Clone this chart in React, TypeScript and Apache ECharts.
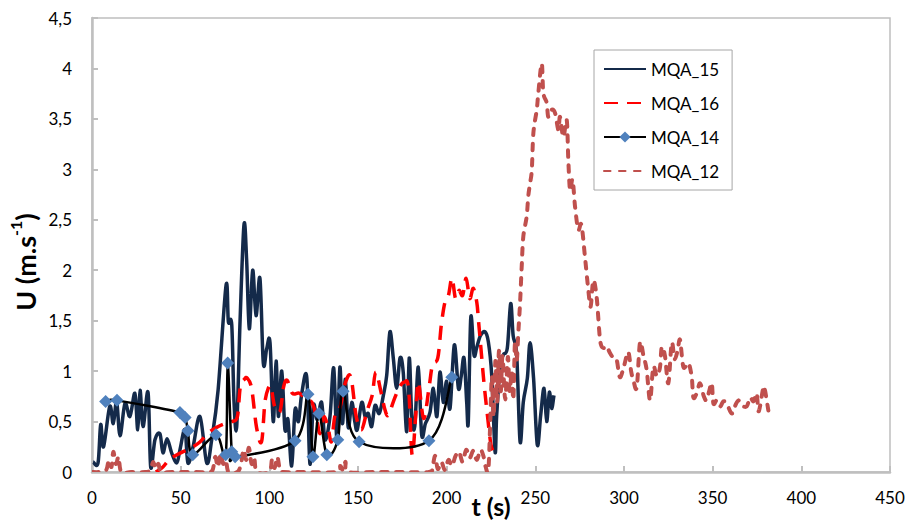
import React, { useEffect, useRef } from "react";
import * as echarts from "echarts";

// Axis ranges (time in s, velocity in m/s)
const xMin = 0;
const xMax = 450;
const xStep = 50;
const yMin = 0;
const yMax = 4.5;
const yStep = 0.5;

const seriesNames = ["MQA_15", "MQA_16", "MQA_14", "MQA_12"];

// MQA_15: [t (s), U (m/s)]
const mqa15: [number, number][] = [
  [0.6, 0.1], [3.4, 0.09], [4.9, 0.47], [6.5, 0.25], [10.0, 0.65], [12.0, 0.48], [13.9, 0.7],
  [15.8, 0.36], [18.6, 0.68], [21.4, 0.55], [24.2, 0.78], [25.8, 0.42], [27.1, 0.81], [28.8, 0.45],
  [31.6, 0.79], [33.1, 0.05], [35.5, 0.32], [38.3, 0.38], [40.0, 0.19], [42.3, 0.33], [44.9, 0.19],
  [47.8, 0.09], [49.6, 0.22], [52.4, 0.42], [54.1, 0.09], [57.0, 0.25], [60.9, 0.55], [64.7, 0.09],
  [67.5, 0.32], [71.1, 0.81], [75.6, 1.85], [76.9, 1.49], [78.8, 1.46], [80.1, 0.69], [81.6, 0.45],
  [83.5, 1.5], [85.7, 2.45], [87.2, 2.1], [88.7, 1.42], [90.6, 2.0], [92.5, 1.55], [94.7, 1.92],
  [96.6, 1.08], [98.5, 1.22], [100.4, 1.28], [102.2, 0.5], [103.8, 1.1], [105.1, 0.55], [107.0, 1.0],
  [108.8, 0.42], [110.5, 0.52], [112.6, 0.06], [114.5, 0.62], [116.4, 0.5], [118.3, 0.78], [121.1, 0.94],
  [122.9, 0.08], [124.8, 0.66], [127.0, 0.52], [129.5, 0.69], [131.4, 0.32], [134.2, 0.55], [136.3, 1.03],
  [138.2, 0.3], [139.8, 1.04], [141.2, 0.48], [142.9, 0.92], [144.5, 0.44], [146.5, 0.69], [148.2, 0.5],
  [149.6, 0.42], [152.1, 0.69], [154.0, 0.55], [155.8, 0.58], [157.7, 0.45], [159.6, 0.66], [162.0, 0.58],
  [164.3, 0.76], [166.2, 0.96], [168.0, 1.39], [169.9, 1.13], [171.8, 0.83], [173.7, 1.13], [175.5, 0.99],
  [177.5, 0.4], [178.9, 1.13], [180.3, 0.56], [182.0, 0.45], [184.0, 1.04], [185.9, 0.37], [188.0, 0.48],
  [190.6, 0.59], [192.5, 0.83], [194.5, 0.55], [196.2, 0.99], [198.1, 0.69], [200.0, 0.9], [201.9, 0.63],
  [204.3, 1.26], [206.6, 0.83], [208.2, 0.95], [209.8, 1.13], [211.3, 0.69], [212.2, 0.5], [213.6, 1.53],
  [215.4, 1.16], [216.9, 1.23], [219.0, 1.35], [221.6, 1.39], [223.5, 1.29], [225.4, 0.96], [227.3, 0.2],
  [228.2, 0.56], [230.1, 1.03], [231.9, 1.16], [234.2, 1.23], [236.1, 1.67], [237.5, 1.35], [239.5, 1.16],
  [241.4, 0.3], [243.2, 0.69], [245.5, 0.93], [247.0, 1.28], [249.0, 0.93], [251.1, 0.27], [253.0, 0.56],
  [254.9, 0.83], [256.4, 0.5], [257.9, 0.79], [259.2, 0.63], [260.5, 0.76],
];

// MQA_16
const mqa16: [number, number][] = [
  [36, 0.0], [40, 0.05], [44, 0.13], [50, 0.19], [56, 0.24], [61, 0.3], [65, 0.38], [70, 0.44],
  [75, 0.48], [79, 0.5], [82, 0.55], [83.6, 0.84], [86, 0.92], [87.5, 0.93], [90, 0.83], [92.8, 0.44],
  [95.6, 0.3], [97.5, 0.69], [99.4, 0.83], [101, 0.84], [103, 0.65], [106, 0.6], [108, 0.84], [110, 0.91],
  [113, 0.78], [117, 0.78], [121, 0.71], [124, 0.69], [126.5, 0.55], [128.5, 0.38], [130.5, 0.55],
  [133, 0.45], [135, 0.3], [137, 0.56], [140, 0.65], [143, 0.89], [146, 0.94], [149, 0.55], [152, 0.42],
  [155, 0.6], [158, 0.76], [160, 0.99], [163, 0.79], [165, 0.63], [167, 0.56], [170, 0.7], [173, 0.83],
  [176, 0.89], [178.5, 0.83], [180.5, 0.17], [182.5, 0.55], [184, 0.89], [187, 0.53], [190, 0.83],
  [192, 1.06], [195, 1.13], [197, 1.46], [199, 1.68], [201, 1.75], [203, 1.92], [205, 1.72], [207, 1.8],
  [209, 1.75], [211, 1.92], [213, 1.72], [215, 1.82], [217, 1.68], [218, 1.49], [219.3, 1.23], [221, 0.89],
  [223, 0.56], [225, 0.27], [227, 0.18],
];

// MQA_14 (measured points, shown with markers)
const mqa14: [number, number][] = [
  [7.7, 0.7], [14.1, 0.71], [49.6, 0.59], [52.5, 0.54], [54.1, 0.41], [56.8, 0.17], [69.9, 0.37],
  [75.4, 0.17], [76.5, 1.08], [78.8, 0.2], [80.7, 0.15], [114.5, 0.31], [121.8, 0.77], [124.6, 0.15],
  [128.0, 0.58], [132.4, 0.17], [138.6, 0.32], [141.6, 0.8], [150.6, 0.3], [190.0, 0.31], [202.9, 0.94],
];

// MQA_12
const mqa12: [number, number][] = [
  [0, 0], [4, 0], [8, 0.02], [9.5, 0.12], [11, 0.05], [12, 0.2], [13.5, 0.08], [15, 0.15], [16.5, 0],
  [22, 0], [30, 0], [33, 0.02], [34.5, 0.1], [36, 0.03], [37.5, 0.08], [39, 0], [45, 0], [55, 0], [65, 0],
  [68, 0.02], [69.5, 0.15], [71, 0.05], [72.5, 0.18], [74, 0.08], [75.5, 0.12], [77, 0], [82, 0],
  [84, 0.08], [85.5, 0.22], [87, 0.12], [88.5, 0.24], [90, 0.08], [91.5, 0.14], [93, 0], [100, 0],
  [101.5, 0.12], [103, 0.04], [104.5, 0.15], [106, 0.02], [108, 0], [120, 0], [138, 0], [140, 0.06],
  [141.5, 0.02], [143, 0.1], [144.5, 0], [160, 0], [175, 0], [190, 0], [192, 0.05], [193.5, 0.16],
  [195, 0.03], [197, 0.1], [199, 0.02], [201, 0.12], [203, 0.06], [205, 0.16], [207, 0.2], [209, 0.1],
  [211, 0.22], [213, 0.14], [215, 0.21], [217, 0.12], [219, 0.22], [220.7, 0.16], [222, 0.05],
  [223.5, 0.02], [224.5, 0.45], [225.5, 0.95], [226.5, 0.55], [227.5, 1.1], [228.5, 0.7], [229.5, 1.2],
  [230.5, 0.8], [231.5, 1.15], [233, 0.72], [234.5, 1.14], [235.5, 0.8], [236.7, 1.0], [237.6, 0.72],
  [238.5, 1.28], [239.5, 1.1], [240.4, 1.38], [241.4, 1.68], [242.3, 2.03], [243.2, 2.33], [245.1, 2.53],
  [246.0, 2.73], [247.0, 2.86], [248.0, 2.99], [248.9, 3.36], [250.8, 3.59], [251.7, 3.76], [253.6, 4.05],
  [254.5, 3.76], [256.4, 3.66], [257.3, 3.52], [259.2, 3.59], [261.1, 3.56], [263.0, 3.39], [263.9, 3.52],
  [265.8, 3.32], [267.7, 3.49], [268.6, 3.09], [269.6, 2.79], [271.0, 2.9], [272.4, 2.63], [274.2, 2.4],
  [276.0, 2.45], [278.0, 2.13], [279.9, 1.8], [281.2, 1.64], [282.7, 1.9], [284.6, 1.73], [286.5, 1.31],
  [288.3, 1.23], [290.0, 1.25], [292.1, 1.18], [294.0, 1.13], [295.9, 1.11], [297.7, 0.94], [300.0, 1.05],
  [302.4, 1.19], [304.0, 1.0], [305.3, 0.91], [307.2, 0.84], [309.0, 1.28], [311.0, 1.15], [312.8, 1.01],
  [314.7, 0.71], [316.5, 1.04], [318.5, 0.95], [320.3, 1.04], [321.3, 1.24], [323.1, 1.15], [325.0, 0.88],
  [326.9, 1.28], [328.5, 1.12], [330.2, 1.2], [331.6, 1.31], [333.5, 1.04], [336.3, 1.08], [338.2, 0.94],
  [339.1, 0.74], [341.0, 0.78], [342.9, 0.88], [345.0, 0.75], [346.6, 0.71], [348.0, 0.8], [349.5, 0.88],
  [350.4, 0.68], [352.3, 0.71], [354.2, 0.65], [356.0, 0.7], [357.9, 0.68], [360.7, 0.58], [362.5, 0.65],
  [364.5, 0.71], [366.5, 0.66], [369.2, 0.65], [371.1, 0.74], [373.0, 0.7], [374.8, 0.78], [375.7, 0.61],
  [376.7, 0.65], [378.6, 0.84], [379.5, 0.81], [381.4, 0.61],
];

const FONT = "Lato, 'Open Sans', sans-serif";
const AXIS_GREY = "#bfbfbf";

const lineStyles: Record<string, { color: string; width: number; dash?: number[]; cap?: string }> = {
  MQA_15: { color: "#142a4a", width: 3.5 },
  MQA_16: { color: "#ff0000", width: 3.5, dash: [14, 9] },
  MQA_14: { color: "#000000", width: 2.5 },
  MQA_12: { color: "#c0504d", width: 4, dash: [6.5, 8.5], cap: "round" },
};

const seriesData: Record<string, [number, number][]> = {
  MQA_15: mqa15,
  MQA_16: mqa16,
  MQA_14: mqa14,
  MQA_12: mqa12,
};

// Cardinal spline through pixel points (control arms = 1/6 of neighbour chord)
function splinePath(pts: number[][]): string {
  if (pts.length < 2) return "";
  let d = `M${pts[0][0]},${pts[0][1]}`;
  for (let i = 0; i < pts.length - 1; i++) {
    const p0 = pts[i - 1] || pts[i];
    const p1 = pts[i];
    const p2 = pts[i + 1];
    const p3 = pts[i + 2] || p2;
    const c1x = p1[0] + (p2[0] - p0[0]) / 6;
    const c1y = p1[1] + (p2[1] - p0[1]) / 6;
    const c2x = p2[0] - (p3[0] - p1[0]) / 6;
    const c2y = p2[1] - (p3[1] - p1[1]) / 6;
    d += ` C${c1x},${c1y} ${c2x},${c2y} ${p2[0]},${p2[1]}`;
  }
  return d;
}

// Smoothed curve series: the whole polyline is emitted once, from the series' own data
function curveSeries(name: string) {
  const data = seriesData[name];
  const st = lineStyles[name];
  return {
    name,
    type: "custom",
    coordinateSystem: "cartesian2d",
    clip: true,
    silent: true,
    encode: { x: 0, y: 1 },
    data,
    renderItem: (params: any, api: any) => {
      if (params.dataIndex !== 0) return null;
      const pts = data.map((p) => api.coord(p));
      return {
        type: "path",
        shape: { pathData: splinePath(pts) },
        style: {
          fill: "none",
          stroke: st.color,
          lineWidth: st.width,
          lineDash: st.dash || null,
          lineCap: st.cap || "butt",
          lineJoin: "round",
        },
      };
    },
  };
}

// Legend-only line series carry the line styles shown in the legend box
function legendSeries(name: string) {
  const st = lineStyles[name];
  return {
    name,
    type: "line",
    data: [],
    symbol: name === "MQA_14" ? "diamond" : "none",
    lineStyle: { color: st.color, width: st.width, type: st.dash || "solid", cap: st.cap || "butt" },
    itemStyle: { color: name === "MQA_14" ? "#4f81bd" : st.color },
  };
}

const legendData = seriesNames.map((name) =>
  name === "MQA_14" ? { name } : { name, itemStyle: { opacity: 0 } }
);

export default function App() {
  const ref = useRef<HTMLDivElement>(null);

  useEffect(() => {
    if (!ref.current) return;
    const chart = echarts.init(ref.current, undefined, { renderer: "svg" });

    const option = {
      animation: false,
      backgroundColor: "#ffffff",
      textStyle: { fontFamily: FONT },
      grid: {
        left: 92,
        right: 21,
        top: 18,
        bottom: 50,
        show: true,
        borderColor: AXIS_GREY,
        borderWidth: 1.5,
        containLabel: false,
        outerBoundsMode: "none",
      },
      legend: {
        data: legendData,
        orient: "vertical",
        left: 594,
        top: 50,
        padding: [9, 13, 9, 9],
        itemGap: 14,
        itemWidth: 42,
        itemHeight: 14,
        borderColor: "#a6a6a6",
        borderWidth: 1,
        backgroundColor: "#ffffff",
        textStyle: { fontSize: 17, color: "#000", fontFamily: FONT, lineHeight: 20 },
      },
      xAxis: {
        type: "value",
        min: xMin,
        max: xMax,
        interval: xStep,
        name: "t (s)",
        nameLocation: "middle",
        nameGap: 21,
        nameMoveOverlap: false,
        nameTextStyle: { fontSize: 25, fontWeight: "bold", color: "#000", fontFamily: FONT },
        axisLine: { lineStyle: { color: AXIS_GREY, width: 2.5 } },
        axisTick: { inside: true, length: 6, lineStyle: { color: AXIS_GREY, width: 2 } },
        axisLabel: { fontSize: 17, color: "#000", margin: 17, fontFamily: FONT },
        splitLine: { show: false },
      },
      yAxis: {
        type: "value",
        min: yMin,
        max: yMax,
        interval: yStep,
        axisLine: { show: true, lineStyle: { color: AXIS_GREY, width: 2.5 } },
        axisTick: { show: true, inside: true, length: 6, lineStyle: { color: AXIS_GREY, width: 2 } },
        axisLabel: {
          fontSize: 17,
          color: "#000",
          margin: 20,
          fontFamily: FONT,
          formatter: (v: number) => String(v).replace(".", ","),
        },
        splitLine: { show: false },
      },
      graphic: [
        {
          type: "text",
          x: 23,
          y: 262,
          rotation: Math.PI / 2,
          style: {
            text: "{a|U (m.s}{b|-1}{a|)}",
            align: "center",
            verticalAlign: "middle",
            rich: {
              a: { fontSize: 27, fontWeight: "bold", fontFamily: FONT, fill: "#000", lineHeight: 31, verticalAlign: "bottom" },
              b: { fontSize: 16, fontWeight: "bold", fontFamily: FONT, fill: "#000", lineHeight: 16, verticalAlign: "top" },
            },
          },
        },
      ],
      series: [
        ...seriesNames.map(legendSeries),
        curveSeries("MQA_15"),
        curveSeries("MQA_16"),
        curveSeries("MQA_14"),
        {
          name: "MQA_14",
          type: "scatter",
          data: mqa14,
          symbol: "diamond",
          symbolSize: 13,
          silent: true,
          itemStyle: { color: "#4f81bd", opacity: 1 },
        },
        curveSeries("MQA_12"),
      ],
    };

    chart.setOption(option as any);
    return () => chart.dispose();
  }, []);

  return (
    <div
      ref={ref}
      style={{ position: "fixed", left: 0, top: 0, width: 911, height: 522 }}
    />
  );
}
